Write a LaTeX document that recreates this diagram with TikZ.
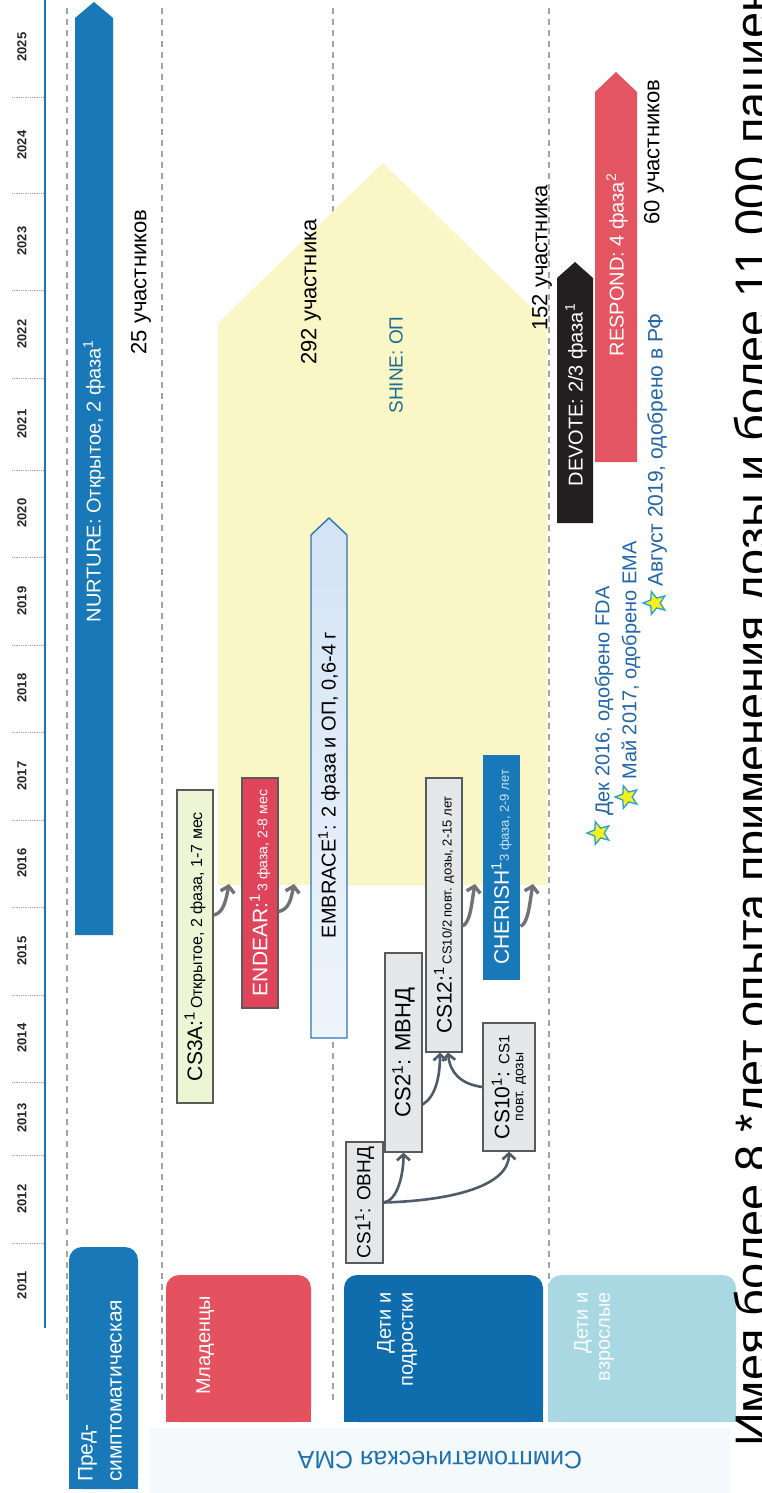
\documentclass[tikz,border=0pt]{standalone}
\usepackage{fontspec}
\setmainfont{Liberation Sans}
\usetikzlibrary{arrows.meta,shapes.geometric,calc}
\definecolor{barblue}{HTML}{1878B8}
\definecolor{darkblue}{HTML}{0F6DAE}
\definecolor{redbox}{HTML}{E4515F}
\definecolor{endearred}{HTML}{E0445A}
\definecolor{lightteal}{HTML}{AAD8E2}
\definecolor{shineyellow}{HTML}{FBF6C6}
\definecolor{csgray}{HTML}{E5E8E9}
\definecolor{cs3agreen}{HTML}{EEF5D4}
\definecolor{embtop}{HTML}{D3E3F5}
\definecolor{embbot}{HTML}{EEF4FB}
\definecolor{embline}{HTML}{2F75B5}
\definecolor{arrowgray}{HTML}{4E5C69}
\definecolor{arrowgraytwo}{HTML}{707275}
\definecolor{dashgray}{HTML}{A3A3A3}
\definecolor{axisblue}{HTML}{2270B5}
\definecolor{textblue}{HTML}{2265A8}
\definecolor{shineblue}{HTML}{1D6C97}
\definecolor{starline}{HTML}{2A9ED8}
\definecolor{staryellow}{HTML}{F6EF1E}
\definecolor{devoteblack}{HTML}{231F20}
\definecolor{respondred}{HTML}{E45562}
\definecolor{smablue}{HTML}{2070B0}
\definecolor{bgpale}{HTML}{F4F9FB}
\definecolor{boxline}{HTML}{5A5A5A}
\definecolor{cherishsmall}{HTML}{CBE2F2}
\newcommand{\myfs}[1]{\fontsize{#1}{#1}\selectfont}
\begin{document}
\begin{tikzpicture}[x=1pt,y=-1pt,
  yearlbl/.style={rotate=90,inner sep=0pt,font=\myfs{13}\bfseries,text=black!85},
  tickln/.style={gray!70,line width=0.8pt,densely dotted},
  dashln/.style={dashgray,line width=1.1pt,dash pattern=on 6pt off 5pt},
  cattext/.style={rotate=90,inner sep=0pt,text=white},
  bartext/.style={rotate=90,inner sep=0pt,font=\myfs{20}},
  cnt/.style={rotate=90,inner sep=0pt,font=\myfs{22}},
  boxnode/.style={rotate=90,inner sep=0pt,line width=1.2pt,align=center,draw=boxline},
  csarrow/.style={arrowgray,line width=2.6pt,-{Straight Barb[length=6pt,width=13pt]}},
  shinearrow/.style={arrowgraytwo,line width=3.4pt,-{Straight Barb[length=6pt,width=14pt]}},
  starnode/.style={star,star points=5,star point ratio=2.3,minimum size=24pt,inner sep=0pt,fill=staryellow,draw=starline,line width=1.3pt,rotate=90},
  startext/.style={rotate=90,anchor=west,inner sep=0pt,text=textblue,font=\myfs{20}}]
\useasboundingbox (0,0) rectangle (761,1493);
\clip (0,0) rectangle (761,1493);
\fill[white] (0,0) rectangle (761,1493);
\fill[bgpale] (150,1428) rectangle (730,1493);

% time axis
\draw[axisblue,line width=1.6pt] (45,0) -- (45,1328);
\foreach \yy in {97,193,290,378,470,557,645,732,820,907,995,1082,1155,1243}
  \draw[tickln] (12,\yy) -- (43,\yy);
\foreach \yr/\yy in {2025/47,2024/145,2023/241,2022/334,2021/424,2020/513,2019/601,2018/688,2017/776,2016/863,2015/951,2014/1038,2013/1118,2012/1199,2011/1285}
  \node[yearlbl] (y\yr) at (22,\yy) {\yr};

% row separators
\foreach \xx in {67,162,333,549}
  \draw[dashln] (\xx,8) -- (\xx,1402);

% SHINE background
\fill[shineyellow] (218,885) -- (218,323) -- (383,163) -- (547,323) -- (547,885) -- cycle;

% category boxes
\fill[barblue,rounded corners=13pt] (69,1247) rectangle (138,1489);
\fill[barblue] (69,1300) rectangle (138,1489);
\fill[redbox,rounded corners=13pt] (166,1275) rectangle (311,1422);
\fill[redbox] (166,1320) rectangle (311,1422);
\fill[darkblue,rounded corners=13pt] (344,1275) rectangle (543,1422);
\fill[darkblue] (344,1320) rectangle (543,1422);
\fill[lightteal,rounded corners=13pt] (548,1275) rectangle (736,1422);
\fill[lightteal] (548,1320) rectangle (736,1422);

\node[cattext,anchor=north west,align=left,font={\fontsize{21}{29}\selectfont}] (pre) at (78,1482) {Пред-\\симптоматическая};
\node[cattext,anchor=base west,font=\myfs{20}] (inf) at (210,1395) {Младенцы};
\node[cattext,anchor=north east,align=right,font={\fontsize{20}{22}\selectfont}] (kids) at (377,1292) {Дети и\\подростки};
\node[cattext,anchor=north east,align=right,font={\fontsize{20}{22}\selectfont},text=white!92!lightteal] (adults) at (574,1292) {Дети и\\взрослые};
\node[rotate=180,inner sep=0pt,font=\myfs{25},text=smablue] (sma) at (440,1460) {Симптоматическая СМА};

% NURTURE
\fill[barblue] (75,935) -- (75,18) -- (94,2) -- (113,18) -- (113,935) -- cycle;
\node[bartext,text=white] (nurture) at (94,481) {NURTURE: Открытое, 2 фаза\textsuperscript{1}};

% EMBRACE
\path[top color=embtop,bottom color=embbot,draw=embline,line width=1.4pt] (311,1038) -- (311,535) -- (329,518) -- (347,535) -- (347,1038) -- cycle;
\node[bartext] (embrace) at (329,785) {EMBRACE\textsuperscript{1}: 2 фаза и ОП, 0,6-4 г};

% DEVOTE
\fill[devoteblack] (557,523) -- (557,278) -- (575,262) -- (593,278) -- (593,523) -- cycle;
\node[bartext,text=white] (devote) at (576,395) {DEVOTE: 2/3 фаза\textsuperscript{1}};

% RESPOND
\fill[respondred] (595,462) -- (595,92) -- (616,72) -- (637,92) -- (637,462) -- cycle;
\node[bartext,text=white] (respond) at (617,265) {RESPOND: 4 фаза\textsuperscript{2}};

% study boxes
\node[boxnode,fill=cs3agreen,minimum width=313pt,minimum height=36pt] (cs3a) at (195,946.5)
  {{\myfs{21}CS3A:\textsuperscript{1}} {\myfs{16}Открытое, 2 фаза, 1-7 мес}};
\node[boxnode,fill=endearred,text=white,minimum width=230pt,minimum height=36pt] (endear) at (260,893)
  {{\myfs{21}ENDEAR:\textsuperscript{1}} {\myfs{14}3 фаза, 2-8 мес}};
\node[boxnode,fill=csgray,minimum width=121pt,minimum height=37pt,font=\myfs{19}] (cs1) at (364.5,1202.5)
  {CS1\textsuperscript{1}: ОВНД};
\node[boxnode,fill=csgray,minimum width=199pt,minimum height=37pt,font=\myfs{22}] (cs2) at (403.5,1052.5)
  {CS2\textsuperscript{1}: МВНД};
\node[boxnode,fill=csgray,minimum width=274pt,minimum height=36pt] (cs12) at (444,915)
  {{\myfs{21}CS12:\textsuperscript{1}} {\myfs{13}CS10/2 повт. дозы, 2-15 лет}};
\node[boxnode,fill=csgray,minimum width=128pt,minimum height=52pt] (cs10) at (509,1087)
  {{\myfs{21}CS10\textsuperscript{1}: {\myfs{15}CS1}}\\[2pt]{\myfs{14}повт. дозы}};
\node[boxnode,draw=none,fill=barblue,text=white,minimum width=225pt,minimum height=37pt] (cherish) at (501.5,867.5)
  {{\myfs{21}CHERISH\textsuperscript{1}}{\myfs{13}\color{cherishsmall}3 фаза, 2-9 лет}};

% connectors between CS studies
\draw[csarrow] (cs1.south) .. controls +(14,-2) and +(0,22) .. (cs2.west);
\draw[csarrow] (cs1.south) .. controls +(70,-2) and +(0,34) .. (cs10.west);
\draw[csarrow] ($(cs2.south west)!0.24!(cs2.south east)$) .. controls +(13,-8) and +(0,24) .. ($(cs12.west)+(-4,0)$);
\draw[csarrow] (cs10.north) .. controls +(-22,-3) and +(2,20) .. ($(cs12.west)+(4,0)$);

% arrows into SHINE
\coordinate (sh1) at (229,884);
\coordinate (sh2) at (294,884);
\coordinate (sh3) at (475,884);
\coordinate (sh4) at (533,884);
\draw[shinearrow] ($(cs3a.south west)!0.6!(cs3a.south east)$) .. controls +(10,-2) and +(-3,16) .. (sh1);
\draw[shinearrow] ($(endear.south west)!0.42!(endear.south east)$) .. controls +(10,-2) and +(-3,16) .. (sh2);
\draw[shinearrow] ($(cs12.south west)!0.46!(cs12.south east)$) .. controls +(8,-3) and +(-3,16) .. (sh3);
\draw[shinearrow] ($(cherish.south west)!0.24!(cherish.south east)$) .. controls +(8,-3) and +(-3,16) .. (sh4);

% counts and labels
\node[cnt] (n25) at (141,282) {25 участников};
\node[cnt] (n292) at (311,292) {292 участника};
\node[rotate=90,inner sep=0pt,font=\myfs{19},text=shineblue] (shine) at (396,365) {SHINE: ОП};
\node[cnt] (n152) at (542,258) {152 участника};
\node[cnt] (n60) at (654,152) {60 участников};

% approvals
\node[starnode] (st1) at (599,833) {};
\node[startext] (fda) at (604,816) {Дек 2016, одобрено FDA};
\node[starnode] (st2) at (627,797) {};
\node[startext] (ema) at (631,780) {Май 2017, одобрено EMA};
\node[starnode] (st3) at (655,603) {};
\node[startext,font=\myfs{21}] (rf) at (657,587) {Август 2019, одобрено в РФ};

% title (cut by the page edge, as in the reference)
\node[rotate=90,anchor=base west,inner sep=0pt,font=\myfs{47}] (title) at (768,1447)
  {Имея более 8 *лет опыта применения дозы и более 11 000 пациентов};
\end{tikzpicture}
\end{document}
